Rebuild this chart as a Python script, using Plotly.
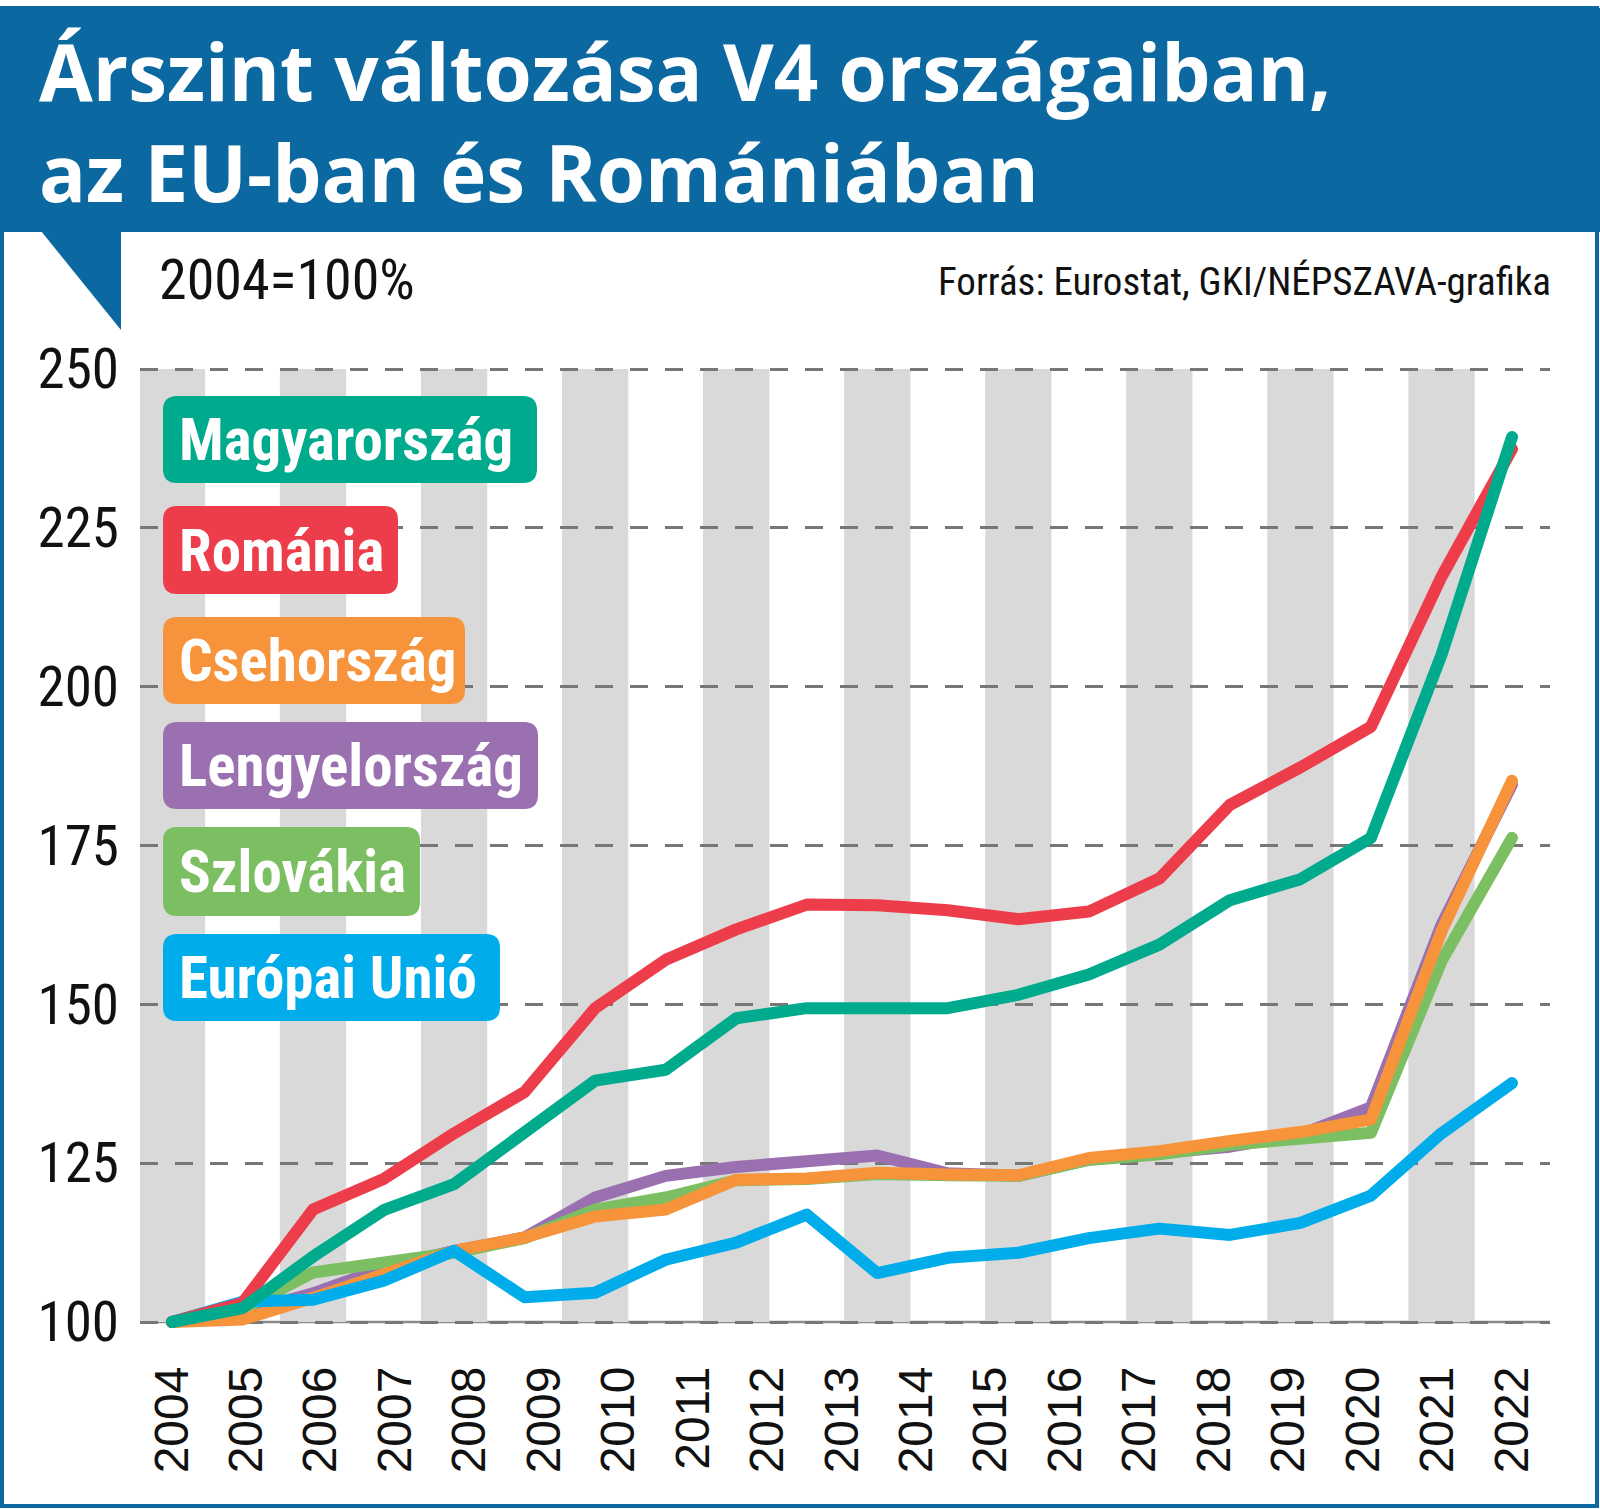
import numpy as np
import plotly.graph_objects as go

# ---------------- data ----------------
years = [str(y) for y in range(2004, 2023)]          # x tick labels (as printed)
y_ticks = [100, 125, 150, 175, 200, 225, 250]

series_names = ["Magyarország", "Románia", "Csehország",
                "Lengyelország", "Szlovákia", "Európai Unió"]

magyarorszag = [100, 102.2, 110.3, 117.6, 121.7, 129.7, 138.0, 139.7, 147.8, 149.4,
                149.4, 149.4, 151.5, 154.7, 159.4, 166.4, 169.7, 176.2, 205.0, 239.3]
romania = [100, 103.0, 117.7, 122.5, 129.7, 136.2, 149.4, 157.0, 161.8, 165.7,
           165.6, 164.8, 163.4, 164.6, 169.8, 181.4, 187.3, 193.7, 217.3, 237.4]
csehorszag = [100, 100.4, 103.8, 107.5, 111.2, 113.3, 116.6, 117.7, 122.4, 122.6,
              123.5, 123.2, 123.1, 125.8, 126.9, 128.5, 129.9, 131.9, 161.5, 185.2]
lengyelorszag = [100, 101.5, 104.5, 108.5, 111.2, 113.3, 119.6, 123.0, 124.4, 125.2,
                 126.2, 123.4, 123.0, 125.6, 126.4, 127.6, 129.5, 133.8, 162.5, 184.6]
szlovakia = [100, 102.0, 107.8, 109.5, 110.9, 113.2, 117.7, 119.6, 122.3, 122.5,
             123.3, 123.1, 123.0, 125.5, 126.4, 127.9, 128.9, 129.8, 156.8, 176.2]
europai_unio = [100, 103.2, 103.5, 106.5, 111.2, 103.9, 104.6, 109.8, 112.5, 116.9,
                107.7, 110.1, 110.9, 113.2, 114.7, 113.7, 115.6, 119.9, 129.7, 137.6]

title_text = "Árszint változása V4 országaiban,<br>az EU-ban és Romániában"
unit_text = "2004=100%"
source_text = "Forrás: Eurostat, GKI/NÉPSZAVA-grafika"

# ---------------- style ----------------
BLUE = "#0b68a0"
colors = {
    "Magyarország": "#00aa8d",
    "Románia": "#ee3d4a",
    "Csehország": "#f7943b",
    "Lengyelország": "#9b70b1",
    "Szlovákia": "#7cbf62",
    "Európai Unió": "#00adea",
}
values = {
    "Magyarország": magyarorszag,
    "Románia": romania,
    "Csehország": csehorszag,
    "Lengyelország": lengyelorszag,
    "Szlovákia": szlovakia,
    "Európai Unió": europai_unio,
}
draw_order = ["Lengyelország", "Szlovákia", "Csehország",
              "Európai Unió", "Románia", "Magyarország"]

NARROW = "Liberation Sans Narrow, Arial Narrow, Roboto Condensed, DejaVu Sans Condensed, sans-serif"
REG = "Liberation Sans, Arial, sans-serif"
TITLE_FONT = "Open Sans, Noto Sans, sans-serif"

# page geometry (pixels)
W, H = 1600, 1509
L, R, T, B = 140, 1550, 362, 1342
X0_PX, X_STEP = 172.0, 70.526        # first point pixel, pixels per point
Y100_PX, Y_UNIT = 1322.0, 6.3533       # pixel of value 100, pixels per unit

n = len(magyarorszag)
xs = np.arange(n)
x_range = [-(X0_PX - L) / X_STEP, (n - 1) + (R - (X0_PX + (n - 1) * X_STEP)) / X_STEP]
y_range = [100 - (B - Y100_PX) / Y_UNIT, 100 + (Y100_PX - T) / Y_UNIT]


def px(x):
    return (x - L) / (R - L)


def py(y):
    return (B - y) / (B - T)


fig = go.Figure()

for name in draw_order:
    fig.add_trace(go.Scatter(
        x=xs, y=values[name], mode="lines", name=name,
        line=dict(color=colors[name], width=12),
        showlegend=False, hoverinfo="skip",
    ))

shapes = []
# alternating grey columns
for i in range(0, n, 2):
    shapes.append(dict(type="rect", xref="x", yref="y", x0=i - 0.47, x1=i + 0.47,
                       y0=100, y1=250, fillcolor="#d9d9d9", line=dict(width=0),
                       layer="below"))
# solid base line
shapes.append(dict(type="line", xref="paper", yref="y", x0=0, x1=1, y0=100, y1=100,
                   line=dict(color="#8a8a8a", width=2.5), layer="between"))
# header band
shapes.append(dict(type="rect", xref="paper", yref="paper", x0=px(0), x1=px(1600),
                   y0=py(232), y1=py(8), fillcolor=BLUE, line=dict(width=0), layer="above"))
# speech-bubble tail
shapes.append(dict(type="path", xref="paper", yref="paper",
                   path=f"M {px(41)},{py(231)} L {px(121)},{py(231)} L {px(121)},{py(330)} Z",
                   fillcolor=BLUE, line=dict(width=0), layer="above"))
# frame
shapes.append(dict(type="rect", xref="paper", yref="paper", x0=px(2), x1=px(1597),
                   y0=py(1506), y1=py(8), line=dict(color=BLUE, width=4),
                   fillcolor="rgba(0,0,0,0)", layer="above"))


def rounded_box(x0, y0, x1, y1, r=14):
    rx, ry = r / (R - L), r / (B - T)
    a, b_, c, d = px(x0), px(x1), py(y0), py(y1)   # c = top, d = bottom (paper)
    return (f"M {a + rx},{c} L {b_ - rx},{c} Q {b_},{c} {b_},{c - ry} "
            f"L {b_},{d + ry} Q {b_},{d} {b_ - rx},{d} L {a + rx},{d} "
            f"Q {a},{d} {a},{d + ry} L {a},{c - ry} Q {a},{c} {a + rx},{c} Z")


legend_boxes = [(163, 396, 537, 483), (163, 506, 398, 594), (163, 617, 465, 704),
                (163, 722, 538, 809), (163, 827, 420, 916), (163, 934, 500, 1021)]

annotations = []
for name, (bx0, by0, bx1, by1) in zip(series_names, legend_boxes):
    shapes.append(dict(type="path", xref="paper", yref="paper",
                       path=rounded_box(bx0, by0, bx1, by1),
                       fillcolor=colors[name], line=dict(width=0), layer="above"))
    annotations.append(dict(xref="paper", yref="paper", x=px(bx0 + 14), y=py((by0 + by1) / 2),
                            xanchor="left", yanchor="middle", showarrow=False, text=name,
                            font=dict(family=NARROW, size=59, color="white", weight="bold")))

# title (two lines in one text)
annotations.append(dict(xref="paper", yref="paper", x=px(37), y=py(121), xanchor="left",
                        yanchor="middle", align="left", showarrow=False, text=title_text,
                        font=dict(family=TITLE_FONT, size=78, color="white", weight="bold")))
annotations.append(dict(xref="paper", yref="paper", x=px(157), y=py(280), xanchor="left",
                        yanchor="middle", showarrow=False, text=unit_text,
                        font=dict(family=NARROW, size=56, color="#111111")))
annotations.append(dict(xref="paper", yref="paper", x=px(1553), y=py(282), xanchor="right",
                        yanchor="middle", showarrow=False, text=source_text,
                        font=dict(family=NARROW, size=39, color="#111111")))

fig.update_layout(
    width=W, height=H, autosize=False,
    margin=dict(l=L, r=W - R, t=T, b=H - B, pad=0),
    paper_bgcolor="white", plot_bgcolor="white",
    shapes=shapes, annotations=annotations,
    xaxis=dict(range=x_range, tickmode="array",
               tickvals=np.linspace(0, n - 1, len(years)), ticktext=years,
               tickangle=-90, ticks="", showgrid=False, zeroline=False, showline=False,
               ticklabelstandoff=14,
               tickfont=dict(family=REG, size=48, color="#111111")),
    yaxis=dict(range=y_range, tickmode="array", tickvals=y_ticks,
               ticktext=[str(v) for v in y_ticks], ticks="",
               showgrid=True, gridcolor="#777777", gridwidth=2.5, griddash="18px,17px",
               zeroline=False, showline=False, ticklabelstandoff=20,
               tickfont=dict(family=NARROW, size=55, color="#111111")),
)

post = ("document.body.style.margin='0';"
        "document.querySelectorAll('.scatterlayer .js-line').forEach(function(p){"
        "p.style.strokeLinejoin='round';p.style.strokeLinecap='round';});")

fig.write_html("out.html", config={"displayModeBar": False}, post_script=post)
